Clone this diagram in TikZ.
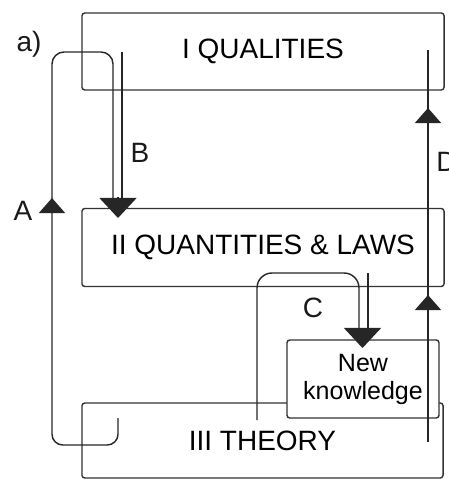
\documentclass[tikz,border=0pt]{standalone}
\usepackage{fontspec}
\setmainfont{Liberation Sans}
\usetikzlibrary{arrows.meta}

\begin{document}
\begin{tikzpicture}[
  x=0.025cm, y=-0.025cm,
  box/.style={draw=black!80,line width=1pt,rounded corners=2pt,fill=white,align=center,inner sep=0pt,font=\fontsize{19.9}{24}\selectfont},
  lbl/.style={inner sep=0pt,text=black!90,font=\fontsize{19.9}{24}\selectfont},
  flow/.style={draw=black!85,line width=1pt},
  bighead/.style={flow,-{Triangle[length=0.5cm,width=0.925cm]}},
  smallhead/.style={flow,-{Triangle[length=0.375cm,width=0.65cm]}}
]
\useasboundingbox (0,0) rectangle (448,479);
\node[box,minimum width=9.05cm,minimum height=1.925cm] (qual) at (263,51.5) {I QUALITIES};
\node[box,minimum width=9.05cm,minimum height=1.95cm] (quant) at (263,247.5) {II QUANTITIES \& LAWS};
\node[box,minimum width=9.025cm,minimum height=1.875cm] (theory) at (262.5,440.5) {III THEORY};
\node[box,minimum width=3.8cm,minimum height=1.95cm,font=\fontsize{17.8}{19.9}\selectfont] (newk) at (363,379) {New\\knowledge};
\node[lbl] (tagA) at (29,44) {a)};
\node[lbl] (labA) at (23,211) {A};
\node[lbl] (labB) at (140,153) {B};
\node[lbl] (labC) at (313,308) {C};
\node[lbl,anchor=west] (labD) at (436,162) {D};
\coordinate (aStart) at (118,418);
\coordinate (aMid) at (52,198);
\coordinate (bStart) at (122,52);
\coordinate (bEnd) at (118,218);
\coordinate (cStart) at (257,420);
\coordinate (cTop) at (368,273);
\coordinate (cEnd) at (362.5,348);
\coordinate (dStart) at (428,442);
\coordinate (dLow) at (428,295);
\coordinate (dHigh) at (428,108);
\coordinate (dEnd) at (428,50);
\draw[smallhead,rounded corners=0.27cm] (aStart) -- (118,445) -- (52,445) -- (aMid);
\draw[flow,rounded corners=0.3cm] (52,200) -- (52,52) -- (113,52) -- (113,199);
\draw[flow] (bStart) -- (122,199);
\draw[bighead] (118,197) -- (bEnd);
\draw[flow,rounded corners=0.375cm] (cStart) -- (257,273) -- (359,273) -- (359,330);
\draw[flow] (cTop) -- (368,330);
\draw[bighead] (362.5,328) -- (cEnd);
\draw[smallhead] (dStart) -- (dLow);
\draw[smallhead] (428,297) -- (dHigh);
\draw[flow] (428,110) -- (dEnd);
\end{tikzpicture}
\end{document}
